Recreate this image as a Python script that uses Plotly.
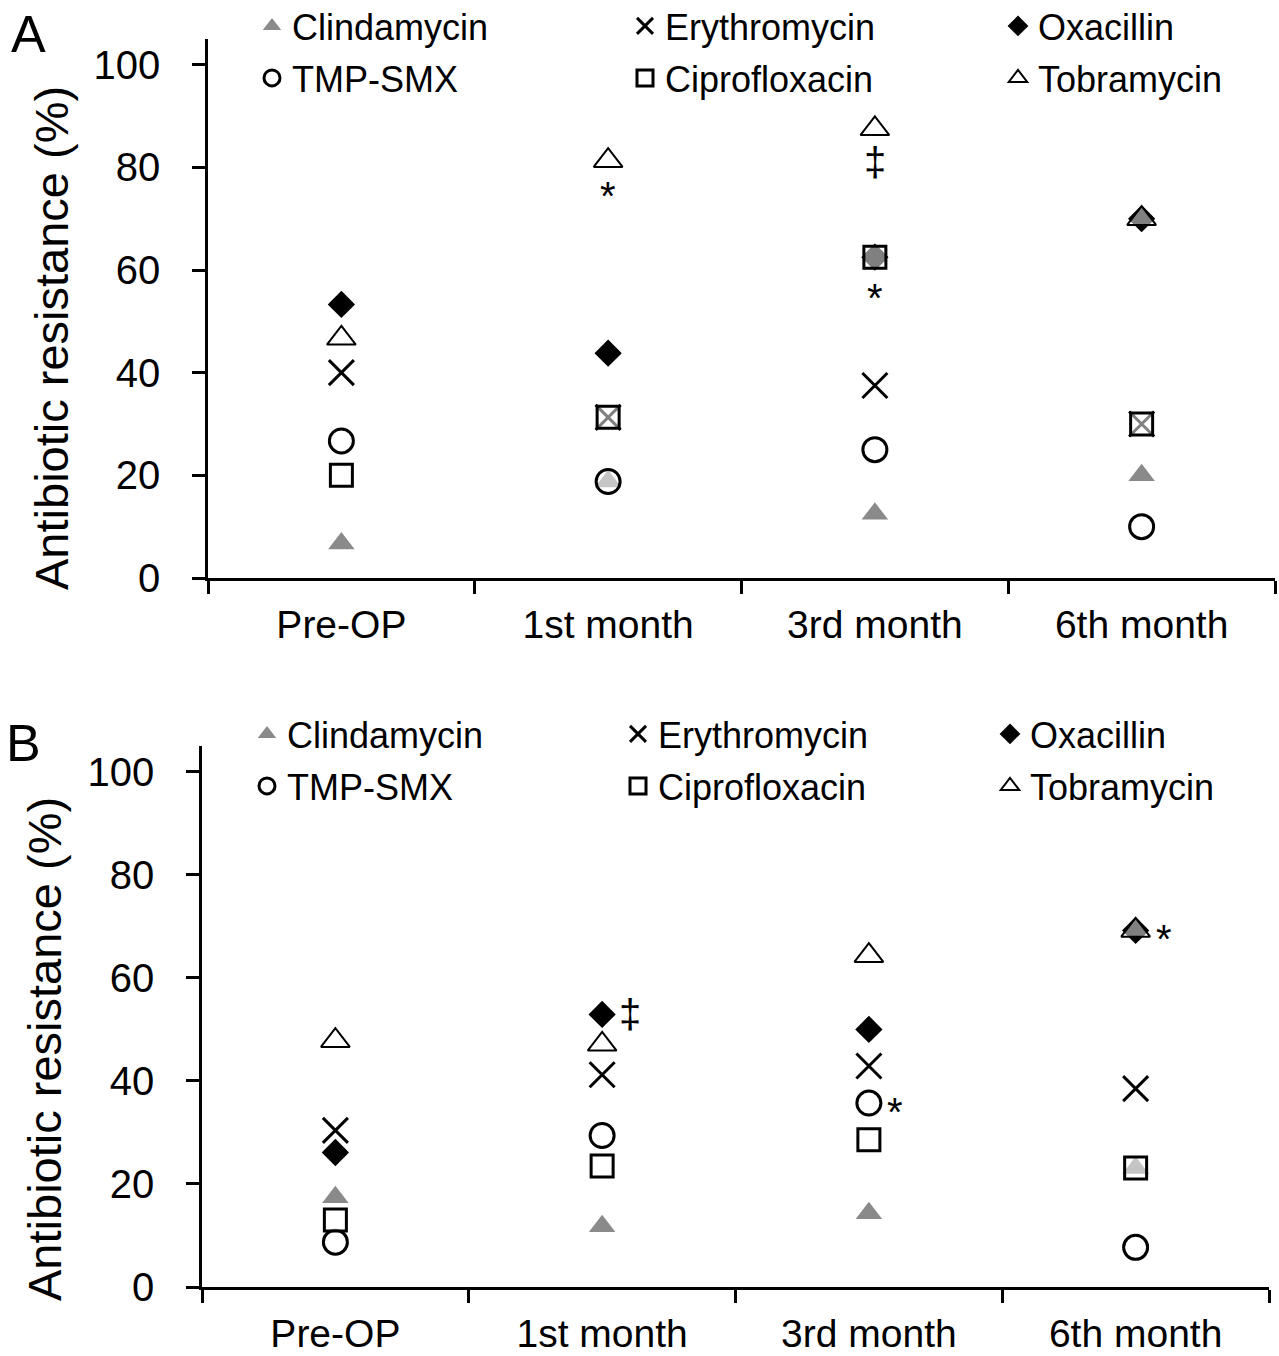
import plotly.graph_objects as go

W, H = 1279, 1356

categories = ["Pre-OP", "1st month", "3rd month", "6th month"]
antibiotics = ["Clindamycin", "Erythromycin", "Oxacillin", "TMP-SMX", "Ciprofloxacin", "Tobramycin"]

# Panel A (%)
clinda_a = [6.7, 18.8, 12.5, 20.0]
erythro_a = [40.0, 31.3, 37.5, 30.0]
oxa_a = [53.3, 43.8, 62.5, 70.0]
tmp_a = [26.7, 18.8, 25.0, 10.0]
cipro_a = [20.0, 31.3, 62.5, 30.0]
tobra_a = [46.7, 81.3, 87.5, 70.0]

# Panel B (%)
clinda_b = [17.4, 11.8, 14.3, 23.1]
erythro_b = [30.4, 41.2, 42.9, 38.5]
oxa_b = [26.1, 52.9, 50.0, 69.2]
tmp_b = [8.7, 29.4, 35.7, 7.7]
cipro_b = [13.0, 23.5, 28.6, 23.1]
tobra_b = [47.8, 47.1, 64.3, 69.2]

y_ticks = [0, 20, 40, 60, 80, 100]

FONT = "Liberation Sans, Arial, sans-serif"
OPEN_FILL = "rgba(255,255,255,0.5)"
styles = {
    "Clindamycin": dict(symbol="triangle-up", size=23, color="#8a8a8a", line=dict(width=0)),
    "Erythromycin": dict(symbol="x-thin-open", size=25, color="black", line=dict(width=3, color="black")),
    "Oxacillin": dict(symbol="diamond", size=21, color="black", line=dict(width=0)),
    "TMP-SMX": dict(symbol="circle", size=24, color=OPEN_FILL, line=dict(width=3, color="black")),
    "Ciprofloxacin": dict(symbol="square", size=22, color=OPEN_FILL, line=dict(width=3, color="black")),
    "Tobramycin": dict(symbol="triangle-up", size=25, color=OPEN_FILL, line=dict(width=2, color="black")),
}

panel_a = dict(zip(antibiotics, [clinda_a, erythro_a, oxa_a, tmp_a, cipro_a, tobra_a]))
panel_b = dict(zip(antibiotics, [clinda_b, erythro_b, oxa_b, tmp_b, cipro_b, tobra_b]))


def px_x(p):
    return p / W


def px_y(p):
    return 1 - p / H


# legend grid: 3 columns x 2 rows per panel (legend left edge px, legend top px)
legend_cols_a = [252, 625, 998]
legend_rows_a = [-4, 48]
legend_cols_b = [247, 618, 990]
legend_rows_b = [704, 756]

fig = go.Figure()
legend_layouts = {}
legend_common = dict(orientation="v", xanchor="left", yanchor="top", bgcolor="rgba(0,0,0,0)",
                     font=dict(family=FONT, size=36, color="black"), borderwidth=0)
idx = 0
for data, cols, rows, xa, ya in [(panel_a, legend_cols_a, legend_rows_a, "x", "y"),
                                 (panel_b, legend_cols_b, legend_rows_b, "x2", "y2")]:
    for i, name in enumerate(antibiotics):
        idx += 1
        lname = "legend" if idx == 1 else f"legend{idx}"
        fig.add_trace(go.Scatter(x=categories, y=data[name], mode="markers", name=name,
                                 marker=styles[name], xaxis=xa, yaxis=ya, legend=lname,
                                 cliponaxis=False))
        legend_layouts[lname] = dict(legend_common, x=px_x(cols[i % 3]), y=px_y(rows[i // 3]))

axis_common = dict(showline=True, linecolor="black", linewidth=2.5, ticks="outside",
                   ticklen=13, tickwidth=2.5, tickcolor="black", showgrid=False, zeroline=False,
                   automargin=False)

ya_common = dict(axis_common, range=[0, 105], tickvals=y_ticks,
                 tickfont=dict(family=FONT, size=40, color="black"), ticklabelstandoff=24)
xa_common = dict(axis_common, type="category", categoryorder="array", categoryarray=categories,
                 range=[-0.5, 3.5], tickson="boundaries", ticklabelstandoff=10,
                 tickfont=dict(family=FONT, size=39, color="black"))

fig.update_layout(
    width=W, height=H,
    margin=dict(l=0, r=0, t=0, b=0, autoexpand=False),
    paper_bgcolor="white", plot_bgcolor="white",
    font=dict(family=FONT, color="black"),
    xaxis=dict(xa_common, domain=[px_x(208), px_x(1275)], anchor="y"),
    yaxis=dict(ya_common, domain=[px_y(578), px_y(39)], anchor="x"),
    xaxis2=dict(xa_common, domain=[px_x(202), px_x(1269)], anchor="y2"),
    yaxis2=dict(ya_common, domain=[px_y(1287), px_y(746)], anchor="x2"),
    showlegend=True,
    **legend_layouts,
)

label_common = dict(xref="paper", yref="paper", showarrow=False, xanchor="center", yanchor="middle")
annotations = [
    dict(label_common, text="A", x=px_x(29), y=px_y(34), font=dict(family=FONT, size=52, color="black")),
    dict(label_common, text="B", x=px_x(23), y=px_y(743), font=dict(family=FONT, size=52, color="black")),
    dict(label_common, text="Antibiotic resistance (%)", x=px_x(51), y=px_y(338), textangle=-90,
         font=dict(family=FONT, size=47, color="black")),
    dict(label_common, text="Antibiotic resistance (%)", x=px_x(44), y=px_y(1049), textangle=-90,
         font=dict(family=FONT, size=47, color="black")),
]

sym_font = dict(family=FONT, size=40, color="black")
# Panel A significance marks
annotations += [
    dict(text="*", x=categories[1], y=tobra_a[1], xref="x", yref="y", yshift=-35, showarrow=False, font=sym_font),
    dict(text="‡", x=categories[2], y=tobra_a[2], xref="x", yref="y", yshift=-33, showarrow=False, font=sym_font),
    dict(text="*", x=categories[2], y=cipro_a[2], xref="x", yref="y", yshift=-41, showarrow=False, font=sym_font),
]
# Panel B significance marks
annotations += [
    dict(text="‡", x=categories[1], y=oxa_b[1], xref="x2", yref="y2", xshift=28, showarrow=False, font=sym_font),
    dict(text="*", x=categories[2], y=tmp_b[2], xref="x2", yref="y2", xshift=26, yshift=-9, showarrow=False, font=sym_font),
    dict(text="*", x=categories[3], y=oxa_b[3], xref="x2", yref="y2", xshift=28, yshift=-9, showarrow=False, font=sym_font),
]
fig.update_layout(annotations=annotations)

fig.write_html("out.html", config={"displayModeBar": False},
               post_script="document.body.style.margin='0';document.body.style.overflow='hidden';")
